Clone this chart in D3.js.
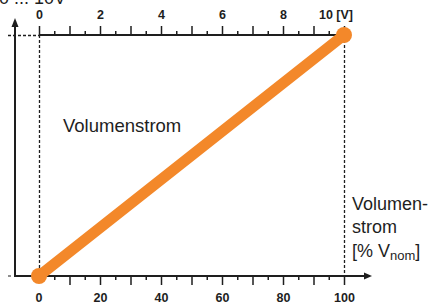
<!DOCTYPE html>
<html>
<head>
<meta charset="utf-8">
<script src="https://cdn.jsdelivr.net/npm/d3@7"></script>
<style>
  body { margin: 0; background: #fff; }
  svg { display: block; font-family: "Liberation Sans", Arial, sans-serif; }
</style>
</head>
<body>
<div id="chart"></div>
<script>
// data
const flowPercent = [0, 100];   // Volumenstrom [% Vnom]
const voltage = [0, 10];        // 0 ... 10 V signal
const voltTicks = [0, 1, 2, 3, 4, 5, 6, 7, 8, 9, 10];
const voltMinor = [0.5, 1.5, 2.5, 3.5, 4.5, 5.5, 6.5, 7.5, 8.5, 9.5];
const flowTicks = [0, 10, 20, 30, 40, 50, 60, 70, 80, 90, 100];
const flowMinor = [5, 15, 25, 35, 45, 55, 65, 75, 85, 95];

const width = 431, height = 308;
const ink = "#1e1e1e";
const orange = "#f3882a";

const svg = d3.select("#chart")
    .append("svg")
        .attr("width", width)
        .attr("height", height);

const xVolt = d3.scaleLinear().domain([0, 10]).range([39, 344]);
const xFlow = d3.scaleLinear().domain([0, 100]).range([39, 344]);
const yVolt = d3.scaleLinear().domain([0, 10]).range([276, 35]);

const yTop = yVolt(10), yBase = yVolt(0);

// dashed guides
const dashed = (x1, y1, x2, y2) => svg.append("line")
    .attr("x1", x1).attr("y1", y1).attr("x2", x2).attr("y2", y2)
    .attr("stroke", ink).attr("stroke-width", 1.3)
    .attr("stroke-dasharray", "3,2");
dashed(xVolt(0) + 0.5, yTop, xVolt(0) + 0.5, yBase);
dashed(xVolt(10) + 0.5, yTop, xVolt(10) + 0.5, yBase);
dashed(8, yTop + 0.5, xVolt(0), yTop + 0.5);

// top axis (voltage)
const topAxis = svg.append("g").attr("transform", `translate(0,${yTop})`);
topAxis.call(d3.axisTop(xVolt).tickValues(voltTicks).tickSize(9).tickPadding(7)
    .tickFormat(d => (d % 2 === 0 && d !== 10) ? d : ""));
topAxis.call(g => g.append("g").call(d3.axisTop(xVolt).tickValues(voltMinor).tickSize(4).tickFormat("")));
topAxis.selectAll(".domain").remove();
topAxis.append("line")
    .attr("x1", xVolt(0)).attr("x2", xVolt(10))
    .attr("stroke", ink).attr("stroke-width", 2);
topAxis.append("text")
    .attr("x", xVolt(10) - 8).attr("y", -16)
    .attr("fill", ink)
    .style("font-size", "12.5px").style("font-weight", "bold")
    .text("10 [V]");

// bottom axis (flow)
const botAxis = svg.append("g").attr("transform", `translate(0,${yBase})`);
botAxis.call(d3.axisBottom(xFlow).tickValues(flowTicks.slice(1)).tickSize(9).tickPadding(8)
    .tickFormat(d => d % 20 === 0 ? d : ""));
botAxis.call(g => g.append("g").call(d3.axisBottom(xFlow).tickValues(flowMinor).tickSize(4).tickFormat("")));
botAxis.selectAll(".domain").remove();
botAxis.append("text")
    .attr("x", xFlow(0)).attr("y", 26)
    .attr("text-anchor", "middle")
    .attr("fill", ink)
    .style("font-size", "12.5px").style("font-weight", "bold")
    .text(flowTicks[0]);
botAxis.append("line")
    .attr("x1", 15).attr("x2", 364)
    .attr("stroke", ink).attr("stroke-width", 2);
botAxis.append("path")
    .attr("d", "M364,-3.5L372,0L364,3.5Z")
    .attr("fill", ink);
botAxis.append("line")
    .attr("x1", 8).attr("x2", 11)
    .attr("stroke", ink).attr("stroke-width", 1);

svg.selectAll(".tick line").attr("stroke", ink).attr("stroke-width", 1.5);
svg.selectAll(".tick text")
    .attr("fill", ink)
    .style("font-size", "12.5px")
    .style("font-weight", "bold")
    .style("font-family", "'Liberation Sans', Arial, sans-serif");

// y axis arrow
svg.append("line")
    .attr("x1", 15).attr("x2", 15)
    .attr("y1", yBase + 1).attr("y2", 26)
    .attr("stroke", ink).attr("stroke-width", 2);
svg.append("path")
    .attr("d", "M11.5,27L15,18L18.5,27Z")
    .attr("fill", ink);

svg.append("text")
    .attr("x", -1).attr("y", 3.5)
    .attr("fill", ink)
    .style("font-size", "18px")
    .text("0 ... 10V");

// characteristic line
const points = flowPercent.map((f, i) => [xFlow(f), yVolt(voltage[i])]);
svg.append("path")
    .attr("d", d3.line()(points))
    .attr("stroke", orange)
    .attr("stroke-width", 11)
    .attr("stroke-linecap", "round")
    .attr("fill", "none");
svg.selectAll(".end")
    .data(points)
    .join("circle")
        .attr("class", "end")
        .attr("cx", d => d[0])
        .attr("cy", d => d[1])
        .attr("r", 8)
        .attr("fill", orange);

// labels
svg.append("text")
    .attr("x", 63).attr("y", 132)
    .attr("fill", ink)
    .style("font-size", "18.5px")
    .text("Volumenstrom");

const unit = svg.append("text")
    .attr("fill", ink)
    .style("font-size", "18px");
unit.append("tspan").attr("x", 352).attr("y", 210).text("Volumen-");
unit.append("tspan").attr("x", 352).attr("y", 233).text("strom");
const last = unit.append("tspan").attr("x", 352).attr("y", 257);
last.text("[% V");
unit.append("tspan").attr("dy", 3).style("font-size", "13px").text("nom");
unit.append("tspan").attr("dy", -3).text("]");
</script>
</body>
</html>
